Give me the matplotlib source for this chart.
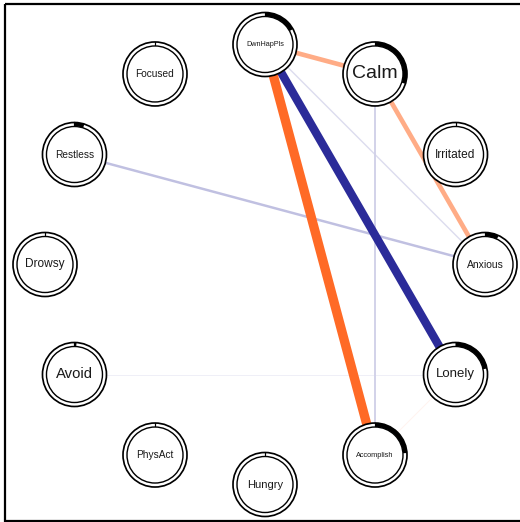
import numpy as np
import matplotlib
matplotlib.use("Agg")
import matplotlib.pyplot as plt
from matplotlib.patches import Circle, Wedge, Rectangle
from matplotlib.colors import to_rgb

plt.rcParams["font.family"] = ["Liberation Sans", "DejaVu Sans"]

# nodes, clockwise from the top
labels = ["DwnHapPls", "Calm", "Irritated", "Anxious", "Lonely", "Accomplish",
          "Hungry", "PhysAct", "Avoid", "Drowsy", "Restless", "Focused"]
# share of each ring filled in black (explained variance)
pie = [0.17, 0.30, 0.0, 0.07, 0.22, 0.24, 0.0, 0.0, 0.01, 0.0, 0.05, 0.0]
label_size = [5.2, 14.0, 8.6, 7.5, 9.5, 5.3, 8.0, 7.3, 10.7, 8.6, 7.3, 7.3]

# partial correlations between nodes
edge_from = ["DwnHapPls", "DwnHapPls", "DwnHapPls", "Calm", "DwnHapPls",
             "Restless", "Calm", "Avoid", "Lonely"]
edge_to = ["Accomplish", "Lonely", "Calm", "Anxious", "Anxious",
           "Anxious", "Accomplish", "Lonely", "Accomplish"]
edge_w = [-0.30, 0.27, -0.15, -0.15, 0.045, 0.08, 0.06, 0.02, -0.02]

POS = "#2B2B99"
NEG = "#FF6A26"
CX, CY, R = 265, 264.5, 220
R_OUT, R_IN = 32, 28


def node_xy(i):
    a = np.deg2rad(90 - 30 * i)
    return CX + R * np.cos(a), CY - R * np.sin(a)


def edge_color(w, wmax=0.27):
    base = np.array(to_rgb(POS if w > 0 else NEG))
    f = min(1.0, abs(w) / wmax)
    return tuple(1 - f * (1 - base))


fig = plt.figure(figsize=(5.2, 5.22), dpi=100)
ax = fig.add_axes([0, 0, 1, 1])
ax.set_xlim(0, 520)
ax.set_ylim(522, 0)
ax.axis("off")

ax.add_patch(Rectangle((5, 4), 530, 517, fill=False, ec="black", lw=1.6))

pos = {lab: node_xy(i) for i, lab in enumerate(labels)}
px = 72 / 100  # pixels -> points

order = np.argsort(np.abs(edge_w))
for k in order:
    a, b, w = edge_from[k], edge_to[k], edge_w[k]
    (x0, y0), (x1, y1) = pos[a], pos[b]
    lw = max(1.0, abs(w) * 31) * px
    ax.plot([x0, x1], [y0, y1], color=edge_color(w), lw=lw,
            solid_capstyle="butt", zorder=1)

for i, lab in enumerate(labels):
    x, y = pos[lab]
    ax.add_patch(Circle((x, y), R_OUT, fc="white", ec="black", lw=1.7 * px, zorder=2))
    if pie[i] > 0:
        ax.add_patch(Wedge((x, y), R_OUT, -90, -90 + 360 * pie[i], width=R_OUT - R_IN,
                           fc="black", ec="none", zorder=3))
    ax.plot([x, x], [y - R_OUT, y - R_IN], color="black", lw=1.2 * px, zorder=3)
    ax.add_patch(Circle((x, y), R_IN, fc="white", ec="black", lw=1.4 * px, zorder=4))
    ax.text(x, y, lab, ha="center", va="center", fontsize=label_size[i],
            color="#1a1a1a", zorder=5)

fig.savefig("out.png", dpi=100)
